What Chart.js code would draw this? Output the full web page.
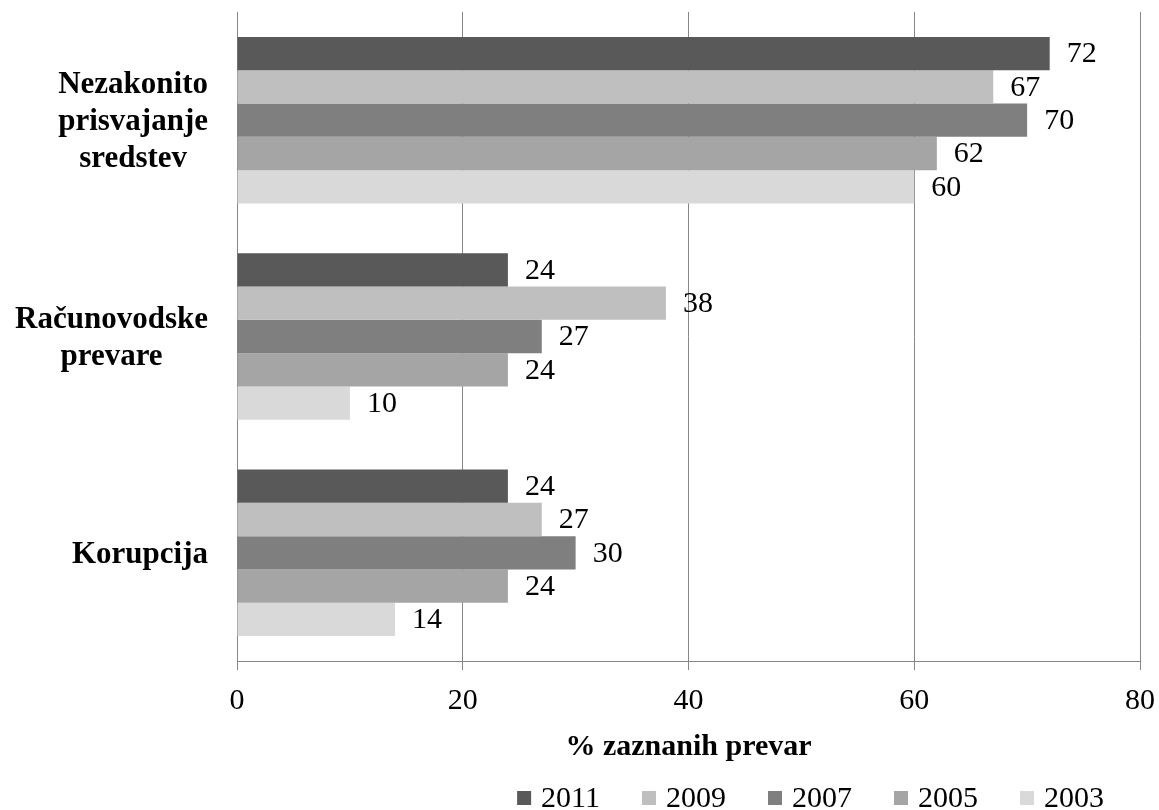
<!DOCTYPE html>
<html>
<head>
<meta charset="utf-8">
<script src="https://cdn.jsdelivr.net/npm/chart.js@4/dist/chart.umd.min.js"></script>
<style>
  html, body { margin: 0; padding: 0; background: #ffffff; }
  #wrap { width: 1159px; height: 810px; }
</style>
</head>
<body>
<div id="wrap"><canvas id="chart" width="1159" height="810"></canvas></div>
<script>
// Fraud categories (each entry is the lines of a wrapped label)
const categories = [
  ['Nezakonito', 'prisvajanje', 'sredstev'],
  ['Računovodske', 'prevare'],
  ['Korupcija']
];

// Survey years, in legend order
const years = ['2011', '2009', '2007', '2005', '2003'];

// Share of detected fraud (%) per category
const values2011 = [72, 24, 24];
const values2009 = [67, 38, 27];
const values2007 = [70, 27, 30];
const values2005 = [62, 24, 24];
const values2003 = [60, 10, 14];

// Value axis ticks
const xTickValues = [0, 20, 40, 60, 80];
const xAxisTitle = '% zaznanih prevar';

const seriesValues = [values2011, values2009, values2007, values2005, values2003];
const seriesColors = ['#595959', '#bfbfbf', '#7f7f7f', '#a5a5a5', '#d9d9d9'];

const SERIF = '"Liberation Serif", "Times New Roman", serif';
const GRID = '#878787';

// Value labels to the right of each bar
const valueLabels = {
  id: 'valueLabels',
  afterDatasetsDraw(chart) {
    const ctx = chart.ctx;
    ctx.save();
    ctx.font = '30px ' + SERIF;
    ctx.fillStyle = '#000000';
    ctx.textAlign = 'left';
    ctx.textBaseline = 'middle';
    chart.data.datasets.forEach((ds, di) => {
      const meta = chart.getDatasetMeta(di);
      meta.data.forEach((bar, i) => {
        ctx.fillText(String(ds.data[i]), bar.x + 17, bar.y + 1);
      });
    });
    ctx.restore();
  }
};

// Wrapped category labels: lines centred within each block, blocks right-aligned
const categoryLabels = {
  id: 'categoryLabels',
  afterDraw(chart) {
    const ctx = chart.ctx;
    const yScale = chart.scales.y;
    const rightEdge = chart.chartArea.left - 29;
    const lineH = 37;
    ctx.save();
    ctx.font = 'bold 31px ' + SERIF;
    ctx.fillStyle = '#000000';
    ctx.textAlign = 'center';
    ctx.textBaseline = 'middle';
    chart.data.labels.forEach((lines, i) => {
      const yc = yScale.getPixelForValue(i) + 2;
      const blockW = Math.max(...lines.map(l => ctx.measureText(l).width));
      const xc = rightEdge - blockW / 2;
      lines.forEach((line, j) => {
        ctx.fillText(line, xc, yc + (j - (lines.length - 1) / 2) * lineH);
      });
    });
    ctx.restore();
  }
};

// Legend row under the axis title
const bottomLegend = {
  id: 'bottomLegend',
  afterDraw(chart) {
    const ctx = chart.ctx;
    const box = 14, boxGap = 10, itemGap = 42;
    ctx.save();
    ctx.font = '30px ' + SERIF;
    ctx.textBaseline = 'middle';
    ctx.textAlign = 'left';
    const items = chart.data.datasets.map(ds => ({
      text: ds.label, color: ds.backgroundColor, w: ctx.measureText(ds.label).width
    }));
    const total = items.reduce((s, it) => s + box + boxGap + it.w, 0) + itemGap * (items.length - 1);
    let x = chart.chartArea.right - 36 - total;
    const yc = chart.height - 12;
    items.forEach(it => {
      ctx.fillStyle = it.color;
      ctx.fillRect(x, yc - box / 2, box, box);
      ctx.fillStyle = '#000000';
      ctx.fillText(it.text, x + box + boxGap, yc + 1);
      x += box + boxGap + it.w + itemGap;
    });
    ctx.restore();
  }
};

new Chart(document.getElementById('chart'), {
  type: 'bar',
  data: {
    labels: categories,
    datasets: years.map((y, i) => ({
      label: y,
      data: seriesValues[i],
      backgroundColor: seriesColors[i],
      borderWidth: 0,
      categoryPercentage: 0.77,
      barPercentage: 1.0
    }))
  },
  options: {
    indexAxis: 'y',
    responsive: false,
    devicePixelRatio: 1,
    animation: false,
    layout: { padding: { left: 237, top: 12, right: 19, bottom: 48 } },
    plugins: {
      legend: { display: false },
      tooltip: { enabled: false }
    },
    scales: {
      x: {
        min: 0,
        max: 80,
        afterBuildTicks(scale) { scale.ticks = xTickValues.map(v => ({ value: v })); },
        afterFit(scale) { scale.paddingRight = 0; scale.paddingLeft = 0; },
        grid: { color: GRID, lineWidth: 1, drawTicks: true, tickLength: 9 },
        border: { display: true, color: GRID, width: 1 },
        ticks: {
          font: { family: SERIF, size: 30 },
          color: '#000000',
          padding: 13,
          maxRotation: 0
        },
        title: {
          display: true,
          text: xAxisTitle,
          font: { family: SERIF, size: 30, weight: 'bold', lineHeight: 1.0 },
          color: '#000000',
          padding: { top: 0, bottom: 0 }
        }
      },
      y: {
        grid: { display: false, drawTicks: false },
        border: { display: true, color: GRID, width: 1 },
        ticks: { display: false }
      }
    }
  },
  plugins: [valueLabels, categoryLabels, bottomLegend]
});
</script>
</body>
</html>
